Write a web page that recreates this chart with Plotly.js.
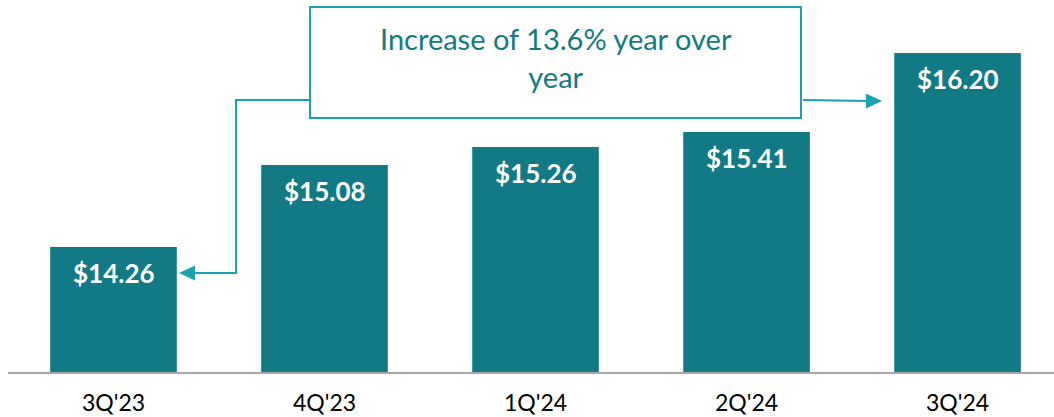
<!DOCTYPE html>
<html>
<head>
<meta charset="utf-8">
<script src="https://cdn.plot.ly/plotly-3.0.1.min.js"></script>
<style>
html,body{margin:0;padding:0;background:#fff;}
#chart{width:1054px;height:417px;}
</style>
</head>
<body>
<div id="chart"></div>
<script>
const categories = ["3Q'23", "4Q'23", "1Q'24", "2Q'24", "3Q'24"];
const values = [14.26, 15.08, 15.26, 15.41, 16.20];
const valueLabels = ["$14.26", "$15.08", "$15.26", "$15.41", "$16.20"];
const calloutText = "Increase of 13.6% year over<br>year";

const BAR = "#117A85";
const LINE = "#17A3B1";
const TEXT = "#127B80";
const FONT = "Lato, 'Open Sans', sans-serif";

// pixel -> paper helpers (plot area: x 8..1054, y 0..372)
const W = 1046, H = 372, L = 8;
const px = v => (v - L) / W;
const py = v => (H - v) / H;

const trace = {
  type: 'bar',
  x: categories,
  y: values,
  marker: {color: BAR},
  hoverinfo: 'none'
};

const labelAnns = categories.map((c, i) => ({
  x: c, y: values[i], xref: 'x', yref: 'y',
  text: valueLabels[i], showarrow: false,
  yanchor: 'middle', yshift: -26,
  font: {family: FONT, size: 26, color: '#ffffff', weight: 'bold'}
}));

const shapes = [
  {type: 'rect', xref: 'paper', yref: 'paper',
   x0: px(310), x1: px(801), y0: py(118), y1: py(7),
   line: {color: LINE, width: 2}, fillcolor: '#ffffff', layer: 'above'},
  {type: 'path', xref: 'paper', yref: 'paper',
   path: `M ${px(310)} ${py(100)} L ${px(236)} ${py(100)} L ${px(236)} ${py(273)} L ${px(190)} ${py(273)}`,
   line: {color: LINE, width: 2}},
  {type: 'path', xref: 'paper', yref: 'paper',
   path: `M ${px(179)} ${py(273)} L ${px(195)} ${py(265.5)} L ${px(195)} ${py(280.5)} Z`,
   line: {color: LINE, width: 0}, fillcolor: LINE},
  {type: 'path', xref: 'paper', yref: 'paper',
   path: `M ${px(803)} ${py(100)} L ${px(870)} ${py(101)}`,
   line: {color: LINE, width: 2}},
  {type: 'path', xref: 'paper', yref: 'paper',
   path: `M ${px(882)} ${py(101)} L ${px(866)} ${py(93.5)} L ${px(866)} ${py(108.5)} Z`,
   line: {color: LINE, width: 0}, fillcolor: LINE}
];

const layout = {
  width: 1054, height: 417,
  margin: {l: 8, r: 0, t: 0, b: 45},
  paper_bgcolor: '#ffffff', plot_bgcolor: '#ffffff',
  showlegend: false,
  bargap: 0.4,
  xaxis: {
    type: 'category',
    range: [-0.5, 4.457],
    showline: true, linecolor: '#A6A6A6', linewidth: 2,
    showgrid: false, zeroline: false, ticks: '',
    ticklabelstandoff: 9,
    tickfont: {family: FONT, size: 23, color: '#000000'},
    fixedrange: true
  },
  yaxis: {
    range: [13.01, 16.73],
    visible: false, showgrid: false, zeroline: false,
    fixedrange: true
  },
  shapes: shapes,
  annotations: labelAnns.concat([{
    xref: 'paper', yref: 'paper',
    x: px(555.5), y: py(58),
    text: calloutText, showarrow: false,
    xanchor: 'center', yanchor: 'middle', align: 'center',
    font: {family: FONT, size: 29, color: TEXT}
  }])
};

Plotly.newPlot('chart', [trace], layout, {displayModeBar: false, staticPlot: true});
</script>
</body>
</html>
